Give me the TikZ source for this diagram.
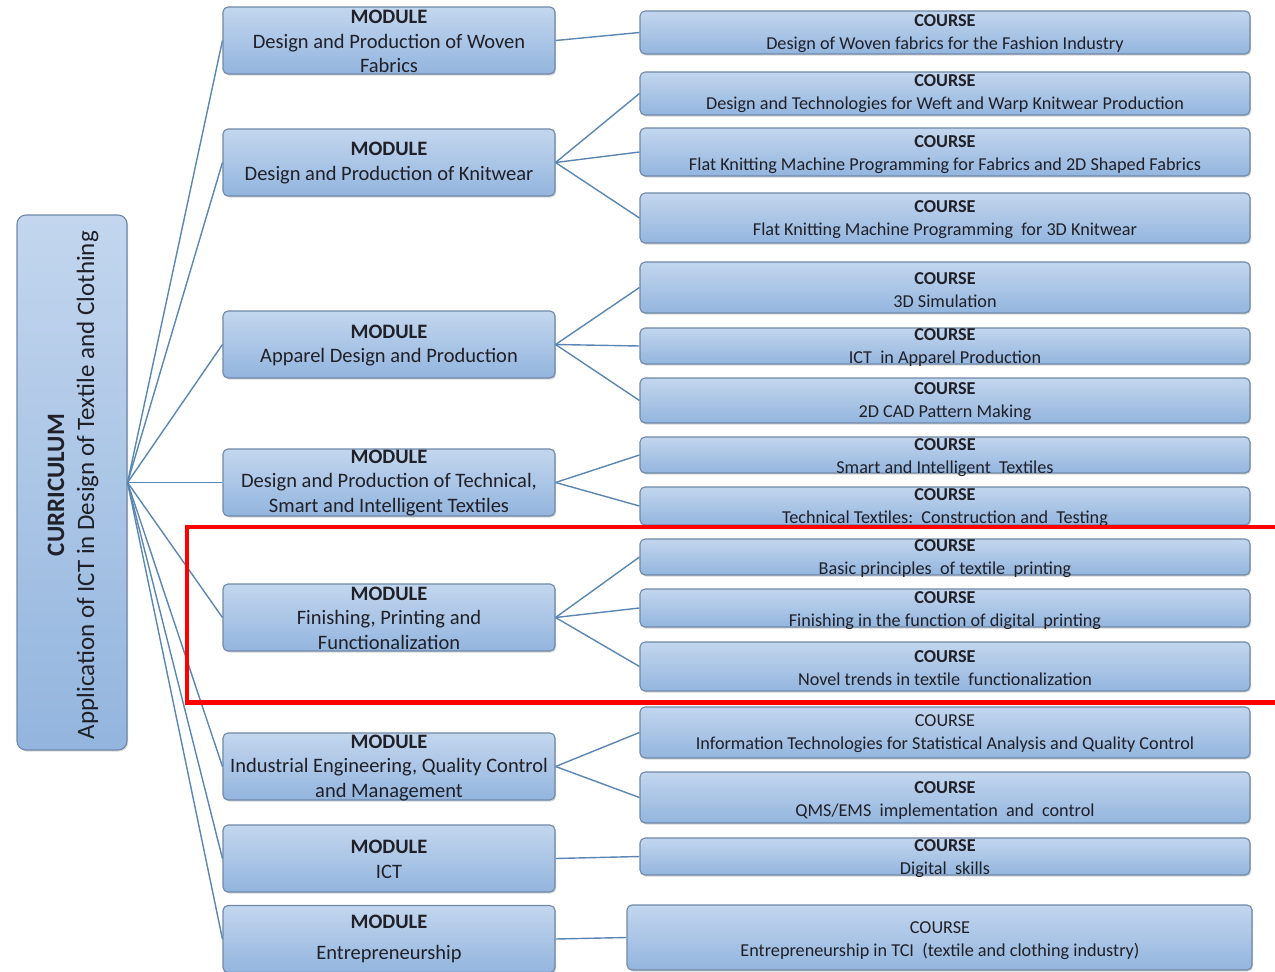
\documentclass[tikz,border=0pt]{standalone}
\usepackage{fontspec}
\setmainfont{Carlito}
\usetikzlibrary{shadows}
\definecolor{boxtop}{HTML}{C3D6EE}
\definecolor{boxbot}{HTML}{93B5DE}
\definecolor{boxline}{HTML}{7088A8}
\definecolor{linkc}{HTML}{5A86B3}
\definecolor{txt}{HTML}{202028}
\definecolor{frame}{HTML}{FF0000}
\begin{document}
\begin{tikzpicture}[x=1pt,y=-1pt,
  box/.style={draw=boxline, line width=1.1pt, rounded corners=5pt, top color=boxtop, bottom color=boxbot, inner sep=0pt,
    drop shadow={shadow xshift=1.2pt, shadow yshift=-1.5pt, opacity=0.25, fill=black!60}},
  modbox/.style={box, minimum width=332pt, minimum height=67pt},
  crsbox/.style={box, minimum width=610pt},
  modtext/.style={font=\fontsize{20.5}{24.5}\selectfont, align=center, text=txt, inner sep=0pt},
  crstext/.style={font=\fontsize{18.2}{23}\selectfont, align=center, text=txt, inner sep=0pt},
  link/.style={draw=linkc, line width=1.4pt},
]
\useasboundingbox (0,0) rectangle (1275,972);

% curriculum
\node[box, rounded corners=9pt, minimum width=110pt, minimum height=535pt] (cur) at (72,482.5) {};
\node[rotate=90, font=\fontsize{25}{30}\selectfont, align=center, text=txt, inner sep=0pt] (curt) at (73,485)
  {\textbf{CURRICULUM}\\Application of ICT in Design of Textile and Clothing};

% modules
\node[modbox] (m1) at (389,40.5) {};
\node[modtext] (m1t) at (389,41.5) {\textbf{MODULE}\\Design and Production of Woven\\Fabrics};
\node[modbox] (m2) at (389,162.5) {};
\node[modtext] (m2t) at (389,163) {\textbf{MODULE}\\Design and Production of Knitwear};
\node[modbox] (m3) at (389,344.5) {};
\node[modtext] (m3t) at (389,345.5) {\textbf{MODULE}\\Apparel Design and Production};
\node[modbox] (m4) at (389,482.5) {};
\node[modtext] (m4t) at (389,483) {\textbf{MODULE}\\Design and Production of Technical,\\Smart and Intelligent Textiles};
\node[modbox] (m5) at (389,617.5) {};
\node[modtext] (m5t) at (389,618) {\textbf{MODULE}\\Finishing, Printing and\\Functionalization};
\node[modbox] (m6) at (389,766.5) {};
\node[modtext] (m6t) at (389,768) {\textbf{MODULE}\\Industrial Engineering, Quality Control\\and Management};
\node[modbox] (m7) at (389,858.5) {};
\node[modtext] (m7t) at (389,859.5) {\textbf{MODULE}\\ICT};
\node[modbox] (m8) at (389,939) {};
\node[modtext] (m8t) at (389,938.5) {\textbf{MODULE}\\[6.5pt]Entrepreneurship};

% courses
\node[crsbox, minimum height=43pt] (c1) at (945,32.5) {};
\node[crstext] (c1t) at (945,34) {\textbf{COURSE}\\Design of Woven fabrics for the Fashion Industry};
\node[crsbox, minimum height=43pt] (c2) at (945,93.5) {};
\node[crstext] (c2t) at (945,94) {\textbf{COURSE}\\Design and Technologies for Weft and Warp Knitwear Production};
\node[crsbox, minimum height=48pt] (c3) at (945,152) {};
\node[crstext] (c3t) at (945,154.5) {\textbf{COURSE}\\Flat Knitting Machine Programming for Fabrics and 2D Shaped Fabrics};
\node[crsbox, minimum height=50pt] (c4) at (945,218) {};
\node[crstext] (c4t) at (945,219.5) {\textbf{COURSE}\\Flat Knitting Machine Programming\ \ for 3D Knitwear};
\node[crsbox, minimum height=51pt] (c5) at (945,287.5) {};
\node[crstext] (c5t) at (945,290) {\textbf{COURSE}\\3D Simulation};
\node[crsbox, minimum height=36pt] (c6) at (945,346) {};
\node[crstext] (c6t) at (945,347.5) {\textbf{COURSE}\\ICT\ \ in Apparel Production};
\node[crsbox, minimum height=45pt] (c7) at (945,400.5) {};
\node[crstext] (c7t) at (945,402) {\textbf{COURSE}\\2D CAD Pattern Making};
\node[crsbox, minimum height=36pt] (c8) at (945,455) {};
\node[crstext] (c8t) at (945,457.5) {\textbf{COURSE}\\Smart and Intelligent\ \ Textiles};
\node[crsbox, minimum height=38pt] (c9) at (945,506) {};
\node[crstext] (c9t) at (945,508) {\textbf{COURSE}\\Technical Textiles:\ \ Construction and\ \ Testing};
\node[crsbox, minimum height=36pt] (c10) at (945,557) {};
\node[crstext] (c10t) at (945,559) {\textbf{COURSE}\\Basic principles\ \ of textile\ \ printing};
\node[crsbox, minimum height=38pt] (c11) at (945,608) {};
\node[crstext] (c11t) at (945,611) {\textbf{COURSE}\\Finishing in the function of digital\ \ printing};
\node[crsbox, minimum height=49pt] (c12) at (945,666.5) {};
\node[crstext] (c12t) at (945,668) {\textbf{COURSE}\\Novel trends in textile\ \ functionalization};
\node[crsbox, minimum height=51pt] (c13) at (945,732.5) {};
\node[crstext] (c13t) at (945,734) {COURSE\\Information Technologies for Statistical Analysis and Quality Control};
\node[crsbox, minimum height=51pt] (c14) at (945,797.5) {};
\node[crstext] (c14t) at (945,800.5) {\textbf{COURSE}\\QMS/EMS\ \ implementation\ \ and\ \ control};
\node[crsbox, minimum height=37pt] (c15) at (945,856.5) {};
\node[crstext] (c15t) at (945,859) {\textbf{COURSE}\\Digital\ \ skills};
\node[box, minimum width=625pt, minimum height=65pt] (c16) at (939.5,937.5) {};
\node[crstext] (c16t) at (940,940.5) {COURSE\\Entrepreneurship in TCI\ \ (textile and clothing industry)};

% connectors curriculum -> modules
\foreach \m in {m1,m2,m3,m4,m5,m6,m7,m8}
  \draw[link] (cur.east) -- (\m.west);
% modules -> courses
\draw[link] (m1.east) -- (c1.west);
\foreach \c in {c2,c3,c4} \draw[link] (m2.east) -- (\c.west);
\foreach \c in {c5,c6,c7} \draw[link] (m3.east) -- (\c.west);
\foreach \c in {c8,c9} \draw[link] (m4.east) -- (\c.west);
\foreach \c in {c10,c11,c12} \draw[link] (m5.east) -- (\c.west);
\foreach \c in {c13,c14} \draw[link] (m6.east) -- (\c.west);
\draw[link] (m7.east) -- (c15.west);
\draw[link] (m8.east) -- (c16.west);

% highlight frame
\draw[frame, line width=4.5pt] (187,527) rectangle (1300,702.5);
\end{tikzpicture}
\end{document}
